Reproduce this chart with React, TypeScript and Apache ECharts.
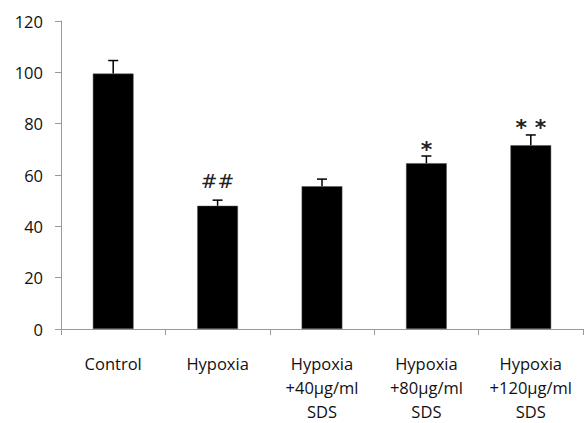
import React, { useEffect, useRef } from "react";
import * as echarts from "echarts";

const categories = ["Control", "Hypoxia", "Hypoxia\n+40μg/ml\nSDS", "Hypoxia\n+80μg/ml\nSDS", "Hypoxia\n+120μg/ml\nSDS"];
const means = [99.5, 48, 55.6, 64.6, 71.6];
const errors = [5.1, 2.2, 2.8, 2.8, 4.0];
const marks = ["", "##", "", "*", "* *"];
const yTicks = { min: 0, max: 120, interval: 20 };

export default function App() {
  const ref = useRef<HTMLDivElement>(null);
  useEffect(() => {
    const chart = echarts.init(ref.current!, null, { renderer: "svg" });
    const font = "'Open Sans', 'Liberation Sans', sans-serif";
    chart.setOption({
      animation: false,
      grid: { left: 61, width: 522, top: 21, height: 313.5, containLabel: false },
      xAxis: {
        type: "category",
        data: categories,
        axisLine: { lineStyle: { color: "#9a9a9a", width: 1 } },
        axisTick: { show: true, alignWithLabel: false, length: 6, lineStyle: { color: "#9a9a9a" } },
        axisLabel: { color: "#111", fontSize: 16.5, fontFamily: font, lineHeight: 24, margin: 22, interval: 0 },
      },
      yAxis: {
        type: "value",
        min: yTicks.min,
        max: yTicks.max,
        interval: yTicks.interval,
        splitLine: { show: false },
        axisLine: { show: true, lineStyle: { color: "#9a9a9a", width: 1 } },
        axisTick: { show: true, length: 6, lineStyle: { color: "#9a9a9a" } },
        axisLabel: { color: "#111", fontSize: 16.5, fontFamily: font, margin: 18 },
      },
      series: [
        {
          type: "bar",
          data: means,
          barWidth: "39%",
          itemStyle: { color: "#000", borderColor: "#555", borderWidth: 0.5 },
          z: 2,
        },
        {
          type: "custom",
          z: 3,
          data: means.map((m, i) => [i, m, errors[i]]),
          renderItem: (params: any, api: any) => {
            const i = api.value(0);
            const m = api.value(1);
            const e = api.value(2);
            const p0 = api.coord([i, m]);
            const p1 = api.coord([i, m + e]);
            const half = 5;
            const children: any[] = [
              { type: "line", shape: { x1: p0[0], y1: p0[1], x2: p1[0], y2: p1[1] }, style: { stroke: "#000", lineWidth: 1.5 } },
              { type: "line", shape: { x1: p1[0] - half, y1: p1[1], x2: p1[0] + half, y2: p1[1] }, style: { stroke: "#000", lineWidth: 1.5 } },
            ];
            const mk = marks[params.dataIndex];
            if (mk) {
              const isStar = mk.indexOf("*") >= 0;
              children.push({
                type: "text",
                x: p1[0],
                y: p1[1] + (isStar ? 4 : -9),
                style: {
                  text: mk,
                  fill: "#222",
                  font: `${isStar ? "bold 22px" : "20px"} 'DejaVu Sans', sans-serif`,
                  align: "center",
                  verticalAlign: "bottom",
                },
              });
            }
            return { type: "group", children };
          },
        },
      ],
    });
    return () => chart.dispose();
  }, []);
  return <div ref={ref} style={{ width: 585, height: 423, position: "absolute", left: 0, top: 0 }} />;
}
